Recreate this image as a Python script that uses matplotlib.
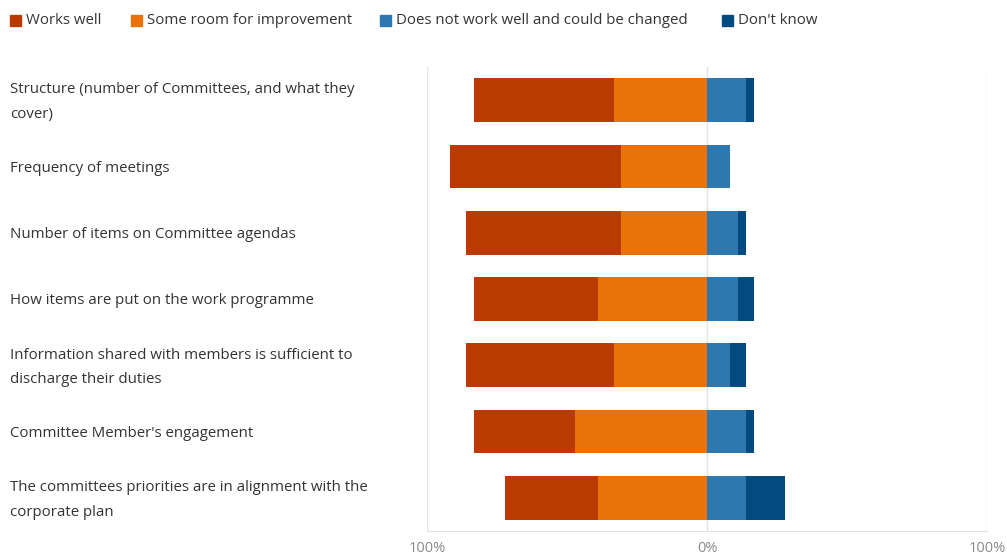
import matplotlib
matplotlib.use("Agg")
import matplotlib.pyplot as plt
from matplotlib.patches import Rectangle
from matplotlib.transforms import blended_transform_factory

plt.rcParams['font.family'] = ['Open Sans', 'DejaVu Sans']

categories = [
    "Structure (number of Committees, and what they\ncover)",
    "Frequency of meetings",
    "Number of items on Committee agendas",
    "How items are put on the work programme",
    "Information shared with members is sufficient to\ndischarge their duties",
    "Committee Member's engagement",
    "The committees priorities are in alignment with the\ncorporate plan",
]

# Share of respondents (%) per answer
works_well = [50.0, 61.1, 55.6, 44.4, 52.8, 36.1, 33.3]
some_room = [33.3, 30.6, 30.6, 38.9, 33.3, 47.2, 38.9]
not_well = [13.9, 8.3, 11.1, 11.1, 8.3, 13.9, 13.9]
dont_know = [2.8, 0.0, 2.8, 5.6, 5.6, 2.8, 13.9]

series_names = ["Works well", "Some room for improvement",
                "Does not work well and could be changed", "Don't know"]
colors = ["#BB3A02", "#EB7109", "#2E78B0", "#024A80"]

tick_values = [-100, 0, 100]
tick_labels = ["100%", "0%", "100%"]

fig = plt.figure(figsize=(10.07, 5.58), dpi=100)
ax = fig.add_axes([427 / 1007, 1 - 531 / 558, 560 / 1007, 464 / 558])

y = list(range(len(categories)))
h = 0.66

# negative side: "some room" next to zero, "works well" further out
ax.barh(y, [-v for v in some_room], height=h, color=colors[1], left=0)
ax.barh(y, [-v for v in works_well], height=h, color=colors[0],
        left=[-v for v in some_room])
# positive side
ax.barh(y, not_well, height=h, color=colors[2], left=0)
ax.barh(y, dont_know, height=h, color=colors[3], left=not_well)

ax.set_xlim(-100, 100)
ax.set_ylim(len(categories) - 0.5, -0.5)
ax.set_xticks(tick_values)
ax.set_xticklabels(tick_labels, color="#8a8a8a", fontsize=10.5)
ax.tick_params(axis="x", length=0, pad=7)
ax.set_yticks([])
for s in ["top", "right", "left"]:
    ax.spines[s].set_visible(False)
ax.spines["bottom"].set_color("#e3e3e3")
ax.set_axisbelow(True)
for xv in tick_values:
    ax.axvline(xv, color="#e3e3e3", lw=1, zorder=0)

# category labels at the left edge of the figure
tr = blended_transform_factory(fig.transFigure, ax.transData)
for yi, label in zip(y, categories):
    ax.text(10 / 1007, yi + 0.03, label, transform=tr, ha="left", va="center",
            fontsize=10.8, color="#333333", linespacing=1.85)

# legend row along the top
leg_x = [10, 131, 380, 722]
for xp, name, c in zip(leg_x, series_names, colors):
    fig.patches.append(Rectangle((xp / 1007, 1 - 26 / 558), 11 / 1007, 11 / 558,
                                 transform=fig.transFigure, color=c))
    fig.text((xp + 16) / 1007, 1 - 20 / 558, name, ha="left", va="center",
             fontsize=10.8, color="#333333")

fig.savefig("out.png", dpi=100)
